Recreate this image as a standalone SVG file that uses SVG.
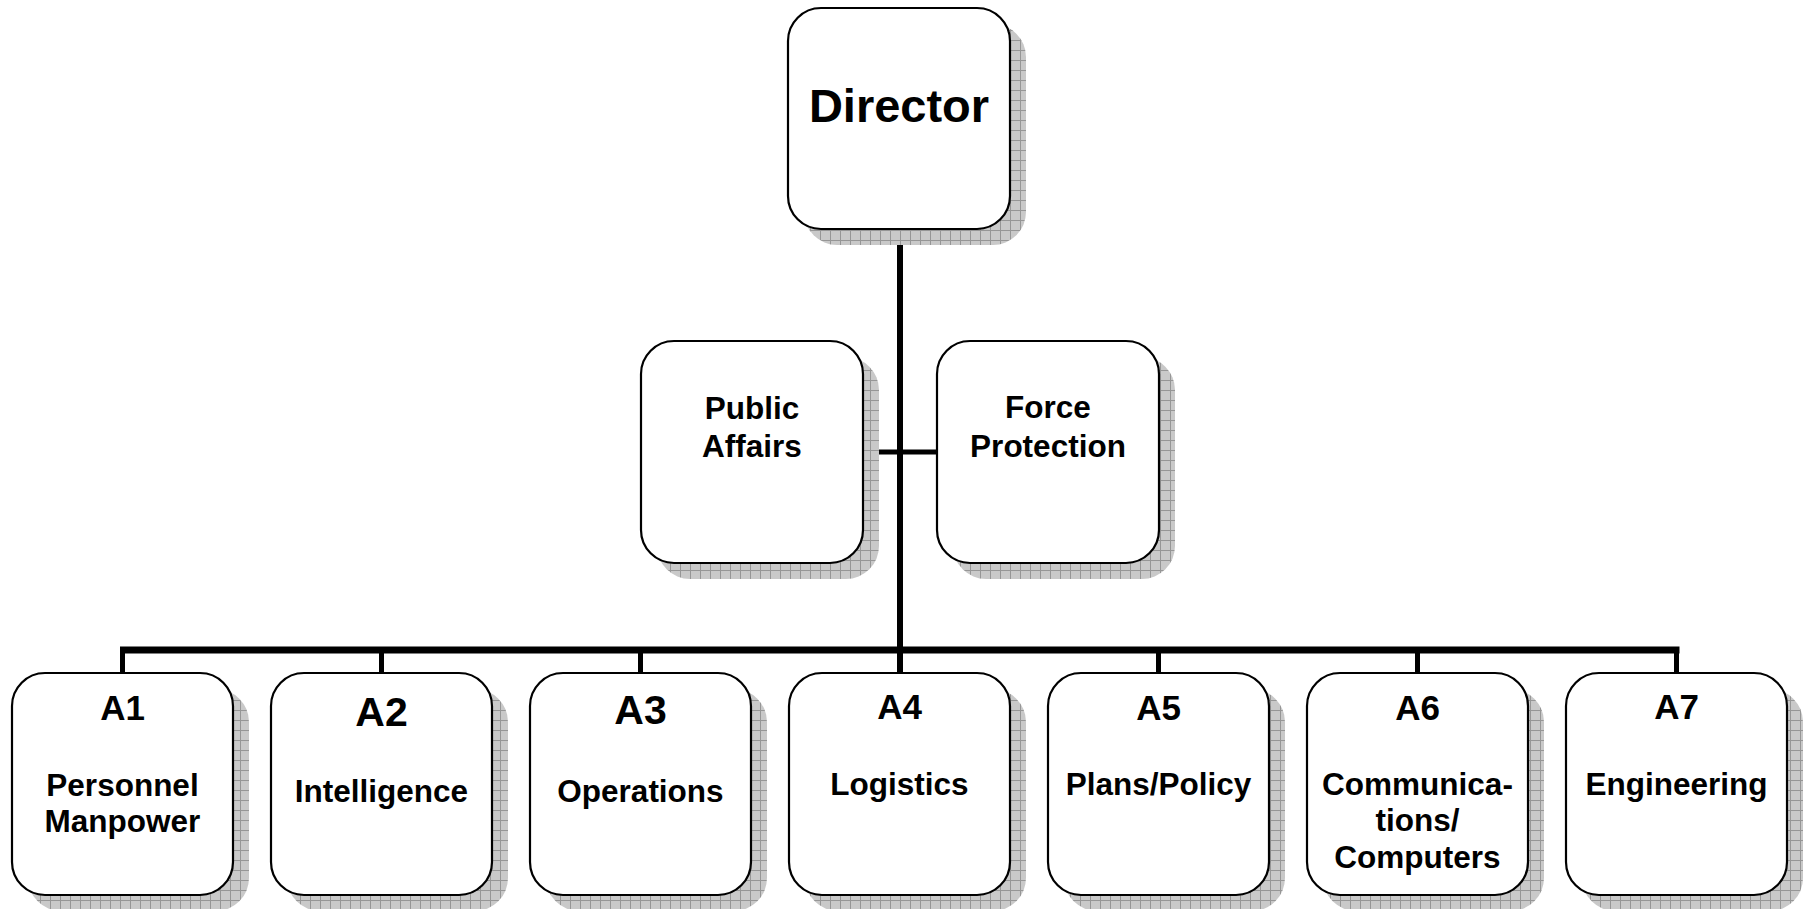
<svg xmlns="http://www.w3.org/2000/svg" width="1805" height="909" viewBox="0 0 1805 909">
<defs>
<pattern id="grid" patternUnits="userSpaceOnUse" width="10" height="10">
<rect width="10" height="10" fill="#c9c9c9"/>
<path d="M0 0.5H10M0.5 0V10" stroke="#969696" stroke-width="1" fill="none"/>
</pattern>
<style>
.shadow{fill:url(#grid);}
.box{fill:#fff;stroke:#000;stroke-width:2.2;}
text{font-family:"Liberation Sans",Arial,sans-serif;font-weight:bold;fill:#000;text-anchor:middle;}
.t1{font-size:47px;}
.t2{font-size:31.5px;}
.code{font-size:35px;}
.codeL{font-size:41px;}
.lbl{font-size:31.5px;}
.line{stroke:#000;fill:none;stroke-linecap:butt;}
</style>
</defs>
<rect width="1805" height="909" fill="#fff"/>
<g id="connectors">
<line class="line" x1="900" y1="229" x2="900" y2="673" stroke-width="6"/>
<line class="line" x1="863" y1="452" x2="937" y2="452" stroke-width="5"/>
<line class="line" x1="120" y1="650" x2="1679.5" y2="650" stroke-width="7"/>
<line class="line" x1="122.5" y1="650" x2="122.5" y2="673" stroke-width="5"/>
<line class="line" x1="381.5" y1="650" x2="381.5" y2="673" stroke-width="5"/>
<line class="line" x1="640.5" y1="650" x2="640.5" y2="673" stroke-width="5"/>
<line class="line" x1="1158.5" y1="650" x2="1158.5" y2="673" stroke-width="5"/>
<line class="line" x1="1417.5" y1="650" x2="1417.5" y2="673" stroke-width="5"/>
<line class="line" x1="1676.5" y1="650" x2="1676.5" y2="673" stroke-width="5"/>
</g>
<g id="director">
<rect class="shadow" x="804" y="24" width="222" height="221" rx="33"/>
<rect class="box" x="788" y="8" width="222" height="221" rx="33"/>
<text class="t1" x="899" y="122">Director</text>
</g>
<g id="public-affairs">
<rect class="shadow" x="657" y="357" width="222" height="222" rx="33"/>
<rect class="box" x="641" y="341" width="222" height="222" rx="33"/>
<text class="t2" x="752" y="419">Public</text>
<text class="t2" x="752" y="457">Affairs</text>
</g>
<g id="force-protection">
<rect class="shadow" x="953" y="357" width="222" height="222" rx="33"/>
<rect class="box" x="937" y="341" width="222" height="222" rx="33"/>
<text class="t2" x="1048" y="418">Force</text>
<text class="t2" x="1048" y="457">Protection</text>
</g>
<g id="a1">
<rect class="shadow" x="28" y="689" width="221" height="222" rx="33"/>
<rect class="box" x="12" y="673" width="221" height="222" rx="33"/>
<text class="code" x="122.5" y="720">A1</text>
<text class="lbl" x="122.5" y="796">Personnel</text>
<text class="lbl" x="122.5" y="832">Manpower</text>
</g>
<g id="a2">
<rect class="shadow" x="287" y="689" width="221" height="222" rx="33"/>
<rect class="box" x="271" y="673" width="221" height="222" rx="33"/>
<text class="codeL" x="381.5" y="726">A2</text>
<text class="lbl" x="381.5" y="802">Intelligence</text>
</g>
<g id="a3">
<rect class="shadow" x="546" y="689" width="221" height="222" rx="33"/>
<rect class="box" x="530" y="673" width="221" height="222" rx="33"/>
<text class="codeL" x="640.5" y="724">A3</text>
<text class="lbl" x="640.5" y="802">Operations</text>
</g>
<g id="a4">
<rect class="shadow" x="805" y="689" width="221" height="222" rx="33"/>
<rect class="box" x="789" y="673" width="221" height="222" rx="33"/>
<text class="code" x="899.5" y="719">A4</text>
<text class="lbl" x="899.5" y="795">Logistics</text>
</g>
<g id="a5">
<rect class="shadow" x="1064" y="689" width="221" height="222" rx="33"/>
<rect class="box" x="1048" y="673" width="221" height="222" rx="33"/>
<text class="code" x="1158.5" y="720">A5</text>
<text class="lbl" x="1158.5" y="795">Plans/Policy</text>
</g>
<g id="a6">
<rect class="shadow" x="1323" y="689" width="221" height="222" rx="33"/>
<rect class="box" x="1307" y="673" width="221" height="222" rx="33"/>
<text class="code" x="1417.5" y="720">A6</text>
<text class="lbl" x="1417.5" y="795">Communica-</text>
<text class="lbl" x="1417.5" y="831">tions/</text>
<text class="lbl" x="1417.5" y="868">Computers</text>
</g>
<g id="a7">
<rect class="shadow" x="1582" y="689" width="221" height="222" rx="33"/>
<rect class="box" x="1566" y="673" width="221" height="222" rx="33"/>
<text class="code" x="1676.5" y="719">A7</text>
<text class="lbl" x="1676.5" y="795">Engineering</text>
</g>
</svg>
